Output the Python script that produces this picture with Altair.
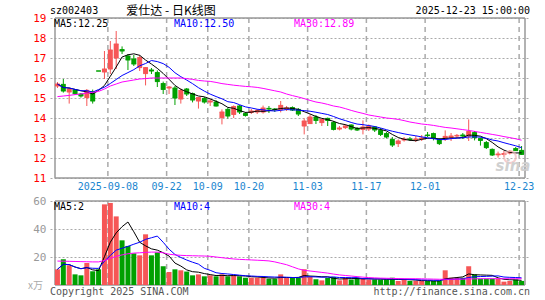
import altair as alt
import pandas as pd
import numpy as np

# ---------------- data ----------------
dates = [
    "2025-08-26", "2025-08-27", "2025-08-28", "2025-08-29",
    "2025-09-01", "2025-09-02", "2025-09-03", "2025-09-04", "2025-09-05",
    "2025-09-08", "2025-09-09", "2025-09-10", "2025-09-11", "2025-09-12",
    "2025-09-15", "2025-09-16", "2025-09-17", "2025-09-18", "2025-09-19",
    "2025-09-22", "2025-09-23", "2025-09-24", "2025-09-25", "2025-09-26",
    "2025-09-29", "2025-09-30",
    "2025-10-09", "2025-10-10",
    "2025-10-13", "2025-10-14", "2025-10-15", "2025-10-16", "2025-10-17",
    "2025-10-20", "2025-10-21", "2025-10-22", "2025-10-23", "2025-10-24",
    "2025-10-27", "2025-10-28", "2025-10-29", "2025-10-30", "2025-10-31",
    "2025-11-03", "2025-11-04", "2025-11-05", "2025-11-06", "2025-11-07",
    "2025-11-10", "2025-11-11", "2025-11-12", "2025-11-13", "2025-11-14",
    "2025-11-17", "2025-11-18", "2025-11-19", "2025-11-20", "2025-11-21",
    "2025-11-24", "2025-11-25", "2025-11-26", "2025-11-27", "2025-11-28",
    "2025-12-01", "2025-12-02", "2025-12-03", "2025-12-04", "2025-12-05",
    "2025-12-08", "2025-12-09", "2025-12-10", "2025-12-11", "2025-12-12",
    "2025-12-15", "2025-12-16", "2025-12-17", "2025-12-18", "2025-12-19",
    "2025-12-22", "2025-12-23",
]

opens = [15.60, 15.68, 15.30, 15.40, 15.20, 15.02, 15.32, 16.35, 16.30, 16.45,
         17.00, 17.42, 17.10, 16.95, 16.52, 16.22, 16.40, 16.27, 15.72, 15.50,
         15.50, 14.95, 15.45, 15.22, 14.85, 14.97, 14.80, 14.80, 14.02, 14.43,
         14.18, 14.60, 14.22, 14.28, 14.30, 14.30, 14.48, 14.45, 14.43, 14.45,
         14.52, 14.43, 13.60, 13.72, 14.05, 13.77, 13.98, 13.77, 13.45, 13.52,
         13.65, 13.48, 13.43, 13.45, 13.55, 13.38, 13.22, 12.93, 12.72, 12.90,
         12.95, 12.90, 12.95, 13.15, 13.22, 12.93, 13.02, 13.03, 13.10, 13.15,
         13.10, 13.27, 12.97, 12.77, 12.43, 12.16, 12.18, 12.25, 12.47, 12.38]
highs = [15.80, 15.95, 15.52, 15.45, 15.25, 15.45, 15.42, 16.35, 17.35, 17.85,
         18.35, 17.58, 17.20, 17.15, 17.15, 16.55, 16.50, 16.38, 15.82, 15.60,
         15.60, 15.48, 15.50, 15.27, 15.05, 15.05, 14.95, 14.90, 14.43, 14.52,
         14.63, 14.65, 14.30, 14.45, 14.45, 14.62, 14.60, 14.50, 14.85, 14.60,
         14.58, 14.50, 13.98, 14.18, 14.15, 13.95, 14.02, 13.85, 13.60, 13.68,
         13.68, 13.55, 13.88, 13.68, 13.60, 13.50, 13.30, 13.05, 12.93, 13.05,
         13.05, 13.10, 13.15, 13.30, 13.27, 12.98, 13.38, 13.25, 13.20, 13.25,
         13.93, 13.35, 13.02, 12.85, 12.48, 12.32, 12.35, 12.40, 12.55, 12.60]
lows = [15.50, 15.27, 14.72, 15.15, 15.02, 14.60, 14.72, 16.35, 15.95, 16.20,
        16.45, 17.20, 16.40, 16.60, 16.35, 15.63, 16.20, 15.55, 15.20, 15.20,
        14.65, 14.72, 15.10, 14.78, 14.47, 14.72, 14.60, 14.57, 13.68, 13.97,
        14.00, 14.20, 14.07, 14.20, 14.20, 14.22, 14.25, 14.30, 14.28, 14.35,
        14.35, 14.10, 13.18, 13.70, 13.70, 13.60, 13.60, 13.38, 13.38, 13.45,
        13.38, 13.35, 13.18, 13.35, 13.30, 13.10, 12.98, 12.55, 12.55, 12.82,
        12.85, 12.80, 12.85, 13.05, 12.88, 12.65, 12.85, 12.85, 13.00, 12.95,
        12.85, 12.88, 12.62, 12.45, 12.10, 12.02, 12.05, 12.18, 12.35, 12.15]
closes = [15.70, 15.35, 15.45, 15.22, 15.10, 15.38, 14.85, 16.35, 16.45, 17.40,
          17.70, 17.35, 16.90, 16.70, 17.02, 16.52, 16.35, 15.82, 15.43, 15.55,
          15.00, 15.38, 15.20, 14.90, 15.02, 14.80, 14.85, 14.60, 14.30, 14.10,
          14.57, 14.30, 14.13, 14.35, 14.38, 14.50, 14.45, 14.42, 14.63, 14.50,
          14.40, 14.20, 13.85, 14.05, 13.88, 13.93, 13.88, 13.43, 13.50, 13.60,
          13.45, 13.40, 13.55, 13.60, 13.40, 13.18, 13.05, 12.65, 12.85, 12.95,
          12.92, 12.95, 13.00, 13.12, 12.98, 12.72, 13.08, 13.10, 13.13, 13.10,
          13.32, 13.02, 12.88, 12.52, 12.15, 12.20, 12.22, 12.32, 12.37, 12.18]
volumes = [11.2, 18.4, 14.1, 7.6, 6.9, 15.7, 9.8, 11.2, 57.6, 58.6,
           49.0, 31.9, 27.9, 22.6, 21.2, 36.2, 21.2, 23.3, 13.4, 9.3,
           11.2, 10.5, 9.6, 6.9, 7.6, 6.2, 6.9, 6.2, 7.6, 6.2,
           6.9, 6.2, 5.2, 5.2, 5.2, 5.2, 4.5, 4.5, 7.6, 5.0,
           5.0, 5.0, 11.2, 5.7, 4.1, 3.3, 5.0, 5.7, 3.3, 5.0,
           3.9, 5.2, 4.5, 3.9, 3.9, 3.9, 3.9, 5.2, 2.9, 3.9,
           2.9, 2.9, 2.9, 2.9, 2.9, 2.9, 10.5, 5.2, 5.2, 5.2,
           13.4, 7.6, 4.5, 4.5, 4.5, 4.5, 2.4, 2.9, 3.9, 2.9]
ma30_price = [15.07, 15.10, 15.13, 15.17, 15.20, 15.25, 15.28, 15.33, 15.45, 15.60,
              15.70, 15.80, 15.85, 15.90, 15.95, 15.97, 16.00, 16.00, 16.00, 16.00,
              16.00, 16.00, 15.97, 15.93, 15.88, 15.85, 15.83, 15.78, 15.72, 15.68,
              15.64, 15.61, 15.58, 15.56, 15.53, 15.48, 15.42, 15.36, 15.30, 15.20,
              15.12, 15.05, 14.97, 14.88, 14.80, 14.75, 14.68, 14.60, 14.55, 14.47,
              14.38, 14.30, 14.23, 14.15, 14.10, 14.05, 14.00, 13.97, 13.93, 13.87,
              13.80, 13.75, 13.70, 13.67, 13.63, 13.58, 13.53, 13.50, 13.46, 13.42,
              13.38, 13.33, 13.28, 13.23, 13.18, 13.13, 13.07, 13.02, 12.96, 12.89]
ma30_volume = [17.1, 17.0, 16.9, 16.8, 16.7, 16.6, 16.5, 16.5, 17.5, 19.0,
               20.5, 21.5, 22.3, 22.8, 23.0, 23.3, 23.5, 23.5, 23.0, 22.0,
               21.5, 21.2, 21.0, 20.9, 20.8, 20.7, 20.5, 20.0, 19.5, 19.0,
               18.6, 18.3, 18.1, 17.9, 17.7, 17.5, 17.2, 16.5, 15.5, 14.5,
               13.0, 11.5, 10.5, 10.0, 9.5, 9.0, 8.5, 7.8, 7.2, 6.8,
               6.4, 6.0, 5.6, 5.3, 5.1, 4.9, 4.8, 4.7, 4.6, 4.5,
               4.5, 4.5, 4.4, 4.3, 4.2, 4.1, 4.1, 4.1, 4.1, 4.2,
               4.3, 4.4, 4.5, 4.5, 4.5, 4.5, 4.5, 4.5, 4.5, 4.5]

tick_dates = ["2025-09-08", "2025-09-22", "2025-10-09", "2025-10-20",
              "2025-11-03", "2025-11-17", "2025-12-01", "2025-12-23"]
tick_labels = ["2025-09-08", "09-22", "10-09", "10-20", "11-03", "11-17", "12-01", "12-23"]
price_ticks = [11, 12, 13, 14, 15, 16, 17, 18, 19]
volume_ticks = [20, 40, 60]

code_text = "sz002403"
title_text = "爱仕达 - 日K线图"
time_text = "2025-12-23 15:00:00"
price_ma_labels = ["MA5:12.25", "MA10:12.50", "MA30:12.89"]
volume_ma_labels = ["MA5:2", "MA10:4", "MA30:4"]
unit_text = "x万"
copyright_text = "Copyright 2025 SINA.COM"
url_text = "http://finance.sina.com.cn"

# ---------------- styling ----------------
RED = "#f65656"
GREEN = "#00a000"
MA_COLORS = ["#000000", "#0000ff", "#ff00ff"]
MONO = "DejaVu Sans Mono"
CJK = "Noto Sans CJK SC"
GRID = "#aaaaaa"
FRAME = "#999999"

W, H = 480, 267
X0 = -2.5 / 6
X1 = X0 + 80
PMIN = max(price_ticks) - H / 20.0
VMAX = H / 1.4

n = len(dates)
df = pd.DataFrame({
    "i": np.arange(n), "date": dates, "open": opens, "high": highs, "low": lows,
    "close": closes, "volume": volumes, "ma30": ma30_price, "vma30": ma30_volume,
})
df["color"] = np.where(df["close"] > df["open"], RED, GREEN)
df["ma5"] = df["close"].rolling(5, min_periods=1).mean()
df["ma10"] = df["close"].rolling(10, min_periods=1).mean()
df["vma5"] = df["volume"].rolling(5, min_periods=1).mean()
df["vma10"] = df["volume"].rolling(10, min_periods=1).mean()
df["bl"] = df["i"] - 0.4
df["br"] = df["i"] + 0.4

ticks = pd.DataFrame({"label": tick_labels,
                      "gx": [dates.index(d) - 2.5 / 6 for d in tick_dates]})
ticks["ptop"] = max(price_ticks)
ticks["pbot"] = min(price_ticks)
ticks["vtop"] = max(volume_ticks)
ticks["vbot"] = 0

pframe = pd.DataFrame({"x": [X0, X1, X0, X0], "x2": [X0, X1, X1, X1],
                       "y": [min(price_ticks)] * 2 + [max(price_ticks), min(price_ticks)],
                       "y2": [max(price_ticks)] * 3 + [min(price_ticks)]})
vframe = pd.DataFrame({"x": [X0, X1, X0, X0], "x2": [X0, X1, X1, X1],
                       "y": [0, 0, max(volume_ticks), 0],
                       "y2": [max(volume_ticks)] * 3 + [0]})

xscale = alt.Scale(domain=[X0, X1], nice=False, zero=False)
pscale = alt.Scale(domain=[PMIN, max(price_ticks)], nice=False, zero=False)
vscale = alt.Scale(domain=[0, VMAX], nice=False, zero=False)

paxis = alt.Axis(values=price_ticks, orient="left", domain=False, ticks=False,
                 labelColor="#ff0000", labelFont=MONO, labelFontSize=11, labelPadding=4,
                 grid=True, gridColor=GRID, gridDash=[2, 2], gridWidth=1,
                 title=None, labelOverlap=False)
vaxis = alt.Axis(values=volume_ticks, orient="left", domain=False, ticks=False,
                 labelColor="#999999", labelFont=MONO, labelFontSize=11, labelPadding=4,
                 grid=True, gridColor=GRID, gridDash=[2, 2], gridWidth=1,
                 title=None, labelOverlap=False)

X = alt.X("i:Q", scale=xscale, axis=None)
COL = alt.Color("color:N", scale=None)


def PY(f):
    return alt.Y(f, scale=pscale, axis=paxis)


def VY(f):
    return alt.Y(f, scale=vscale, axis=vaxis)


base = alt.Chart(df)

# ---- price panel ----
p_vgrid = alt.Chart(ticks).mark_rule(color=GRID, strokeWidth=1.5, strokeDash=[5, 4]).encode(
    x=alt.X("gx:Q", scale=xscale, axis=None), y=PY("ptop:Q"), y2="pbot:Q")
p_frame = alt.Chart(pframe).mark_rule(color=FRAME, strokeWidth=1.5).encode(
    x=alt.X("x:Q", scale=xscale, axis=None), x2="x2:Q", y=PY("y:Q"), y2="y2:Q")
wick = base.mark_rule(strokeWidth=1).encode(x=X, y=PY("low:Q"), y2="high:Q", color=COL)
body = base.mark_bar(size=5).encode(x=X, y=PY("open:Q"), y2="close:Q", color=COL)
cap_o = base.mark_rule(strokeWidth=1).encode(
    x=alt.X("bl:Q", scale=xscale, axis=None), x2="br:Q", y=PY("open:Q"), color=COL)
cap_c = base.mark_rule(strokeWidth=1).encode(
    x=alt.X("bl:Q", scale=xscale, axis=None), x2="br:Q", y=PY("close:Q"), color=COL)
pma = [base.mark_line(color=c, strokeWidth=1).encode(x=X, y=PY(f"{f}:Q"))
       for f, c in zip(["ma5", "ma10", "ma30"], MA_COLORS)]
price_layer = alt.layer(p_vgrid, p_frame, wick, body, cap_o, cap_c, *pma)

# ---- volume panel ----
v_vgrid = alt.Chart(ticks).mark_rule(color=GRID, strokeWidth=1.5, strokeDash=[5, 4]).encode(
    x=alt.X("gx:Q", scale=xscale, axis=None), y=VY("vtop:Q"), y2="vbot:Q")
v_frame = alt.Chart(vframe).mark_rule(color=FRAME, strokeWidth=1.5).encode(
    x=alt.X("x:Q", scale=xscale, axis=None), x2="x2:Q", y=VY("y:Q"), y2="y2:Q")
vbars = base.mark_bar(size=5).encode(x=X, y=VY("volume:Q"), color=COL)
vma = [base.mark_line(color=c, strokeWidth=1).encode(x=X, y=VY(f"{f}:Q"))
       for f, c in zip(["vma5", "vma10", "vma30"], MA_COLORS)]
volume_layer = alt.layer(v_vgrid, v_frame, vbars, *vma)


# ---- texts ----
def txt(t, x, y, align="left", color="#000000", font=MONO, size=10, **kw):
    return alt.Chart(pd.DataFrame({"t": [t]})).mark_text(
        align=align, baseline="middle", color=color, font=font, fontSize=size, **kw
    ).encode(text="t:N", x=alt.value(x), y=alt.value(y))


date_labels = alt.Chart(ticks).mark_text(
    align="center", baseline="middle", color="#1a86cf", font=MONO, fontSize=10
).encode(x=alt.X("gx:Q", scale=xscale, axis=None), y=alt.value(169), text="label:N")

texts = [
    txt(code_text, 0, -7),
    txt(title_text, 121, -7, align="center", font=CJK, size=12),
    txt(time_text, 480, -7, align="right"),
    txt(price_ma_labels[0], 4, 6, color=MA_COLORS[0]),
    txt(price_ma_labels[1], 124, 6, color=MA_COLORS[1]),
    txt(price_ma_labels[2], 244, 6, color=MA_COLORS[2]),
    txt(volume_ma_labels[0], 4, 188.5, color=MA_COLORS[0]),
    txt(volume_ma_labels[1], 124, 188.5, color=MA_COLORS[1]),
    txt(volume_ma_labels[2], 244, 188.5, color=MA_COLORS[2]),
    txt(unit_text, -7, 268, align="right", color="#aaaaaa", font=CJK, size=10),
    txt(copyright_text, 0, 274, color="#555555"),
    txt(url_text, 480, 274, align="right", color="#555555"),
    txt("sina", 463, 148, align="center", color="#d0d0d0", font="DejaVu Sans",
        size=15, fontStyle="italic", fontWeight="bold"),
]
logo = alt.Chart(pd.DataFrame({"t": [0]})).mark_point(
    shape="circle", size=140, filled=False, color="#f2b8b8", strokeWidth=2
).encode(x=alt.value(460), y=alt.value(139))

text_layer = alt.layer(date_labels, logo, *texts)

chart = alt.layer(price_layer, volume_layer, text_layer).resolve_scale(
    y="independent"
).properties(
    width=W, height=H,
    autosize=alt.AutoSizeParams(type="none"),
    padding={"left": 50, "top": 18, "right": 15, "bottom": 15},
    background="white",
).configure_view(stroke=None)

chart.save("out.html", embed_options={"renderer": "svg", "actions": False})
